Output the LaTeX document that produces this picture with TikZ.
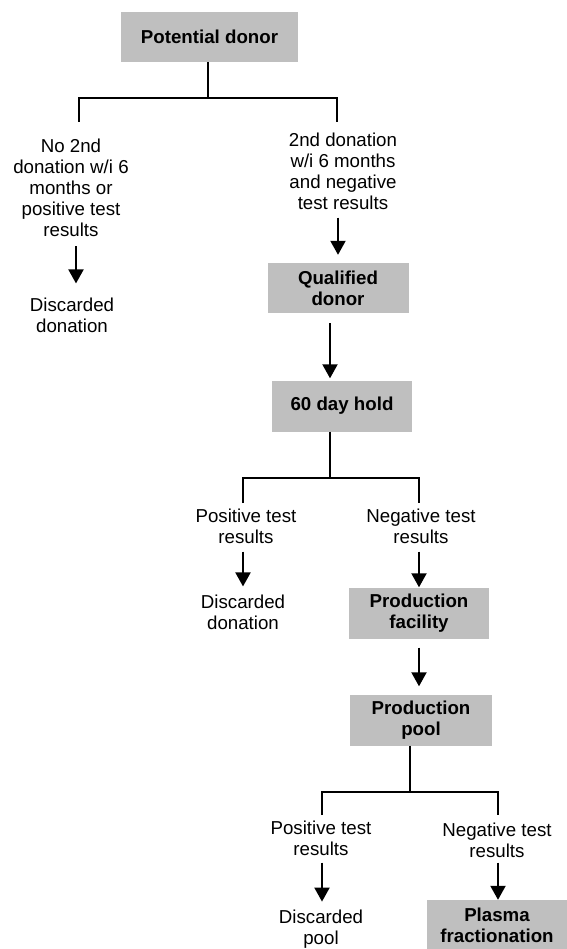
\documentclass[tikz,border=0pt]{standalone}
\usepackage{fontspec}
\setmainfont{Liberation Sans}
\usetikzlibrary{arrows.meta}

\begin{document}
\begin{tikzpicture}[x=1pt,y=-1pt]
\tikzset{box/.style={fill=black!25,minimum width=140pt,minimum height=50pt,inner sep=0pt,align=center,font=\fontsize{18.7}{21}\selectfont\bfseries}}
\tikzset{txt/.style={align=center,inner sep=0pt,font=\fontsize{18.7}{21}\selectfont}}
\tikzset{arr/.style={-{Triangle[width=15pt,length=14pt]},line width=2pt,shorten <=8pt}}
\tikzset{tree/.style={line width=2pt}}
\useasboundingbox (0,0) rectangle (566,949);

\node (donor) at (209.5,37) [box,minimum width=177pt] {Potential donor};
\node (nosecond) at (71,188) [txt] {No 2nd\\donation w/i 6\\months or\\positive test\\results};
\node (discA) at (72,315) [txt] {Discarded\\donation};
\node (secondok) at (343,171) [txt] {2nd donation\\w/i 6 months\\and negative\\test results};
\node (qual) at (338,288) [box,minimum width=141pt] {Qualified\\donor};
\node (hold) at (342,406) [box,minimum height=51pt] {60 day hold};
\node (posA) at (246,526) [txt] {Positive test\\results};
\node (negA) at (421,526) [txt] {Negative test\\results};
\node (discB) at (243,612) [txt] {Discarded\\donation};
\node (facility) at (419,613) [box,minimum height=51pt] {Production\\facility};
\node (pool) at (421,720) [box,minimum width=142pt,minimum height=51pt] {Production\\pool};
\node (posB) at (321,838) [txt] {Positive test\\results};
\node (negB) at (497,840) [txt] {Negative test\\results};
\node (discC) at (321,929) [txt] {Discarded\\pool};
\node (plasma) at (497,925) [box] {Plasma\\fractionation};

% branch points
\coordinate (forkA) at (208,98);
\coordinate (legAl) at (79,122);
\coordinate (legAr) at (337,122);
\coordinate (forkB) at (330,478);
\coordinate (legBl) at (243,503);
\coordinate (legBr) at (419,503);
\coordinate (forkC) at (410,792);
\coordinate (legCl) at (322,815);
\coordinate (legCr) at (498,815);

\draw[tree] (donor.south -| forkA) -- (forkA);
\draw[tree] (legAl) |- (forkA) -| (legAr);
\draw[tree] (hold.south -| forkB) -- (forkB);
\draw[tree] (legBl) |- (forkB) -| (legBr);
\draw[tree] (pool.south -| forkC) -- (forkC);
\draw[tree] (legCl) |- (forkC) -| (legCr);

\draw[arr,shorten <=9pt,shorten >=14pt] ([xshift=5pt]nosecond.south) -- ([xshift=4pt]discA.north);
\draw[arr,shorten >=8pt] (secondok.south -| qual) -- (qual.north);
\draw[arr,shorten <=10pt,shorten >=2pt] (qual.south -| forkB) -- (hold.north -| forkB);
\draw[arr,shorten >=8pt] (posA.south -| legBl) -- (discB.north -| legBl);
\draw[arr] (negA.south -| legBr) -- (facility.north -| legBr);
\draw[arr,shorten <=9pt,shorten >=8pt] (facility.south) -- (pool.north -| facility);
\draw[arr,shorten <=7pt,shorten >=8pt] (posB.south -| legCl) -- (discC.north -| legCl);
\draw[arr,shorten <=5pt] (negB.south -| legCr) -- (plasma.north -| legCr);
\end{tikzpicture}
\end{document}
